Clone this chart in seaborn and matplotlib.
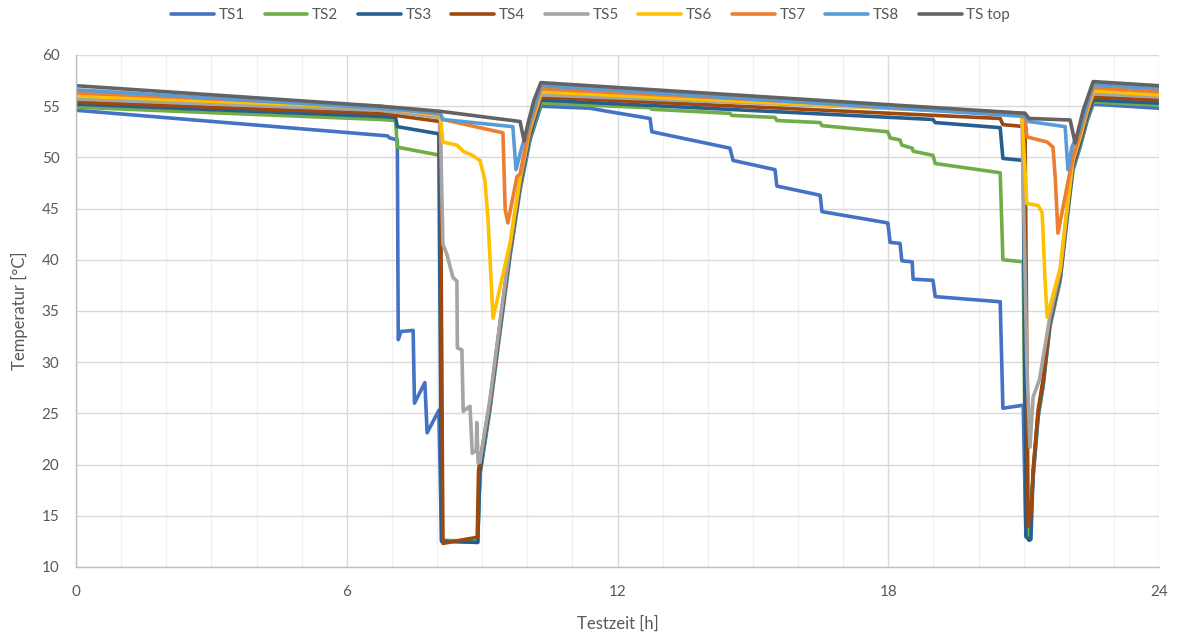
import matplotlib
matplotlib.use("Agg")
import matplotlib.pyplot as plt
from matplotlib.ticker import MultipleLocator
import pandas as pd
import seaborn as sns

# Storage tank sensor temperatures over a 24 h test run (time in hours, temperature in °C)
sensors = ["TS1", "TS2", "TS3", "TS4", "TS5", "TS6", "TS7", "TS8", "TS top"]
colors = ["#4472C4", "#70AD47", "#255E91", "#9E480E", "#A5A5A5",
          "#FFC000", "#ED7D31", "#5B9BD5", "#636363"]

ts1_t = [0, 6.90, 6.95, 7.12, 7.14, 7.20, 7.47, 7.50, 7.73, 7.78, 8.04, 8.10, 8.90,
         8.95, 9.17, 9.40, 9.62, 9.84, 10.06, 10.30, 11.39, 11.77, 12.72, 12.76,
         14.49, 14.56, 15.49, 15.53, 16.49, 16.53, 17.99, 18.04, 18.26, 18.30,
         18.53, 18.55, 18.99, 19.04, 20.48, 20.54, 20.99, 21.05, 21.12,
         21.21, 21.32, 21.43, 21.58, 21.81, 21.96, 22.09, 22.25, 22.41, 22.54, 24.0]
ts1_v = [54.6, 52.1, 51.9, 51.7, 32.2, 33.0, 33.1, 26.0, 28.0, 23.1, 25.3, 12.6, 12.4,
         19.0, 25.3, 33.1, 40.4, 46.8, 51.7, 55.0, 54.8, 54.5, 53.8, 52.5,
         50.9, 49.7, 48.8, 47.2, 46.3, 44.7, 43.6, 41.7, 41.6, 39.9,
         39.8, 38.1, 38.0, 36.4, 35.9, 25.5, 25.8, 13.0, 12.8,
         18.8, 24.6, 27.6, 33.4, 38.0, 43.9, 48.7, 51.0, 53.6, 55.2, 54.8]

ts2_t = [0, 6.74, 7.08, 7.12, 8.07, 8.12, 8.90,
         8.95, 9.17, 9.40, 9.62, 9.84, 10.06, 10.30, 12.72, 12.76, 14.49, 14.53,
         15.49, 15.53, 16.49, 16.53, 17.99, 18.04, 18.26, 18.30, 18.53, 18.55,
         18.99, 19.04, 20.48, 20.54, 20.99, 21.05, 21.12,
         21.21, 21.32, 21.43, 21.58, 21.81, 21.96, 22.09, 22.25, 22.41, 22.54, 24.0]
ts2_v = [54.9, 53.7, 53.6, 51.0, 50.2, 12.6, 12.5,
         19.2, 25.5, 33.4, 40.7, 47.1, 52.0, 55.3, 54.85, 54.7, 54.3, 54.1,
         53.9, 53.6, 53.4, 53.1, 52.5, 51.9, 51.7, 51.2, 50.9, 50.6,
         50.2, 49.4, 48.5, 40.0, 39.8, 13.0, 12.9,
         19.0, 24.8, 27.8, 33.6, 38.2, 44.1, 48.9, 51.2, 53.8, 55.4, 55.1]

ts3_t = [0, 6.74, 7.08, 7.12, 8.04, 8.10, 8.90,
         8.95, 9.17, 9.40, 9.62, 9.84, 10.06, 10.30, 18.99, 19.04, 20.48, 20.54,
         20.99, 21.05, 21.12, 21.16,
         21.21, 21.32, 21.43, 21.58, 21.81, 21.96, 22.09, 22.25, 22.41, 22.54, 24.0]
ts3_v = [55.2, 54.0, 53.9, 53.0, 52.3, 12.5, 12.4,
         19.3, 25.8, 33.6, 40.9, 47.3, 52.2, 55.6, 53.7, 53.4, 52.9, 49.9,
         49.7, 13.0, 12.6, 12.7,
         19.2, 25.0, 28.0, 33.8, 38.4, 44.3, 49.1, 51.4, 54.0, 55.6, 55.3]

ts4_t = [0, 6.74, 8.07, 8.13, 8.50, 8.89, 8.92,
         9.17, 9.40, 9.62, 9.84, 10.06, 10.30, 20.48, 20.54, 21.03, 21.10, 21.17,
         21.21, 21.32, 21.43, 21.58, 21.81, 21.96, 22.09, 22.25, 22.41, 22.54, 24.0]
ts4_v = [55.4, 54.3, 53.5, 12.3, 12.6, 12.9, 19.5,
         26.0, 33.9, 41.2, 47.6, 52.5, 55.9, 53.8, 53.2, 53.0, 14.0, 15.5,
         19.5, 25.3, 28.3, 34.1, 38.6, 44.6, 49.4, 51.7, 54.3, 55.9, 55.6]

ts5_t = [0, 6.74, 8.07, 8.13, 8.22, 8.35, 8.44, 8.45, 8.55, 8.58, 8.73, 8.78,
         8.87, 8.88, 8.91, 8.95, 9.17, 9.40, 9.62, 9.84, 10.06, 10.30,
         20.96, 21.07, 21.14, 21.21, 21.35, 21.58, 21.81, 21.96, 22.09, 22.25,
         22.41, 22.54, 24.0]
ts5_v = [55.7, 54.6, 53.9, 41.5, 40.5, 38.3, 37.9, 31.4, 31.2, 25.2, 25.7, 21.1,
         21.4, 24.1, 20.2, 20.2, 26.3, 34.1, 41.4, 47.8, 52.7, 56.1,
         54.3, 30.0, 21.7, 26.6, 28.3, 34.4, 38.9, 44.8, 49.6, 51.9,
         54.5, 56.2, 55.9]

ts6_t = [0, 6.74, 8.07, 8.13, 8.44, 8.58, 8.78, 8.95, 9.06, 9.13, 9.24, 9.33,
         9.62, 9.84, 10.06, 10.30, 20.96, 21.07, 21.32, 21.41, 21.47, 21.52,
         21.81, 21.96, 22.09, 22.25, 22.41, 22.54, 24.0]
ts6_v = [56.0, 54.85, 54.1, 51.5, 51.2, 50.6, 50.2, 49.7, 47.8, 43.9, 34.3, 36.0,
         41.7, 48.1, 53.0, 56.4, 54.2, 45.5, 45.3, 44.6, 38.4, 34.4,
         39.2, 45.0, 49.8, 52.1, 54.8, 56.5, 56.1]

ts7_t = [0, 6.74, 8.07, 8.13, 9.46, 9.51, 9.57, 9.77, 9.84, 10.06, 10.30,
         21.03, 21.07, 21.52, 21.65, 21.70, 21.76, 21.96, 22.09, 22.25, 22.41,
         22.54, 24.0]
ts7_v = [56.3, 55.0, 54.2, 53.7, 52.4, 44.9, 43.6, 48.1, 48.4, 53.2, 56.7,
         54.3, 52.0, 51.5, 51.0, 48.0, 42.6, 47.1, 50.0, 52.4, 55.0,
         56.8, 56.4]

ts8_t = [0, 6.74, 8.07, 8.13, 9.68, 9.75, 9.88, 10.06, 10.30, 21.03, 21.12,
         21.92, 21.98, 22.07, 22.25, 22.41, 22.54, 24.0]
ts8_v = [56.6, 54.8, 54.3, 53.7, 53.0, 48.8, 51.0, 53.6, 57.0, 54.0, 53.5,
         53.0, 48.8, 51.0, 52.8, 55.3, 57.1, 56.7]

top_t = [0, 6.74, 8.07, 9.84, 9.93, 10.02, 10.15, 10.30, 21.03, 21.12, 22.03,
         22.14, 22.32, 22.54, 24.0]
top_v = [57.0, 55.0, 54.5, 53.5, 51.6, 53.4, 55.6, 57.3, 54.3, 53.8, 53.65,
         51.4, 54.6, 57.4, 57.0]

series_t = [ts1_t, ts2_t, ts3_t, ts4_t, ts5_t, ts6_t, ts7_t, ts8_t, top_t]
series_v = [ts1_v, ts2_v, ts3_v, ts4_v, ts5_v, ts6_v, ts7_v, ts8_v, top_v]

frames = []
for name, t, v in zip(sensors, series_t, series_v):
    frames.append(pd.DataFrame({"Testzeit": t, "Temperatur": v, "Sensor": name}))
df = pd.concat(frames, ignore_index=True)

sns.set_style("white")
plt.rcParams["font.family"] = ["Lato", "DejaVu Sans"]

fig = plt.figure(figsize=(11.81, 6.40), dpi=100)
ax = fig.add_axes([0.0644, 0.1141, 0.9170, 0.8000])

sns.lineplot(data=df, x="Testzeit", y="Temperatur", hue="Sensor",
             hue_order=sensors, palette=dict(zip(sensors, colors)),
             estimator=None, sort=False, linewidth=2.6, ax=ax,
             solid_joinstyle="round", solid_capstyle="round")

ax.set_xlim(0, 24)
ax.set_ylim(10, 60)
ax.xaxis.set_major_locator(MultipleLocator(6))
ax.xaxis.set_minor_locator(MultipleLocator(1))
ax.yaxis.set_major_locator(MultipleLocator(5))
ax.grid(which="major", axis="both", color="#D9D9D9", linewidth=1.0)
ax.grid(which="minor", axis="x", color="#F0F0F0", linewidth=1.0)
ax.set_axisbelow(True)
for side in ["top", "right"]:
    ax.spines[side].set_visible(False)
for side in ["left", "bottom"]:
    ax.spines[side].set_color("#BFBFBF")
    ax.spines[side].set_linewidth(1.0)

ax.tick_params(which="both", length=0, labelsize=11, labelcolor="#595959")
ax.tick_params(axis="x", pad=13)
ax.tick_params(axis="y", pad=12)
ax.set_xlabel("Testzeit [h]", fontsize=12, color="#595959", labelpad=12)
ax.set_ylabel("Temperatur [°C]", fontsize=12, color="#595959", labelpad=10)

handles, labels = ax.get_legend_handles_labels()
ax.get_legend().remove()
fig.legend(handles, labels, loc="center", bbox_to_anchor=(0.5, 0.976), ncol=9,
           frameon=False, fontsize=11, labelcolor="#595959", handlelength=2.8,
           handletextpad=0.3, columnspacing=1.3)

fig.savefig("out.png", dpi=100)
